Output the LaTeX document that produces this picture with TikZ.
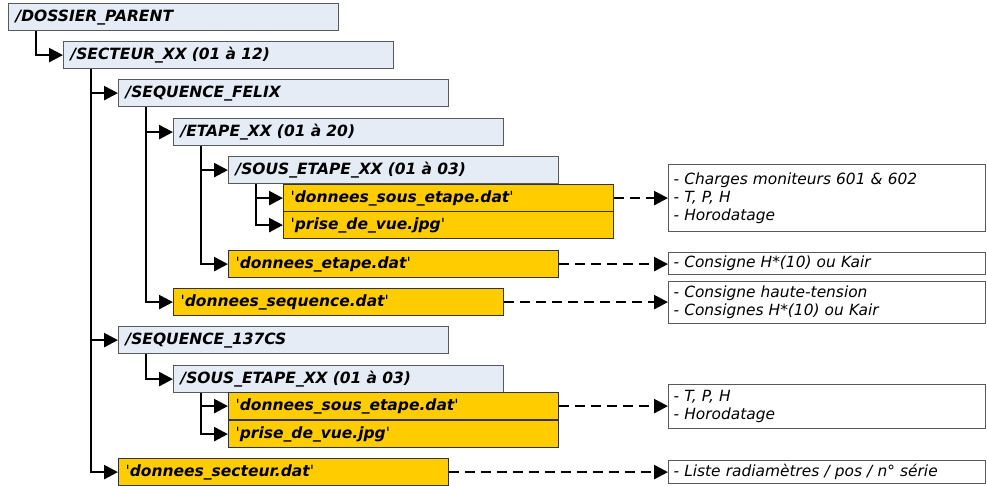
\documentclass[tikz,border=0pt]{standalone}
\usepackage{fontspec}
\setmainfont{DejaVu Sans}
\usepackage{xcolor}
\usetikzlibrary{arrows.meta, positioning}
\definecolor{folderblue}{RGB}{230,236,246}
\definecolor{fileyellow}{RGB}{255,204,0}
\tikzset{
  folder/.style={rectangle, draw=black!65, fill=folderblue, line width=1.2pt,
    anchor=north west, text width=316pt, inner xsep=7pt, inner ysep=0pt, align=left,
    minimum height=27pt, font=\fontsize{15.5}{18}\selectfont\bfseries\itshape},
  datafile/.style={folder, draw=black!80, fill=fileyellow},
  note/.style={rectangle, draw=black!65, fill=white, line width=1.2pt,
    anchor=north west, text width=307pt, inner xsep=5pt, inner ysep=0pt, align=left,
    font=\fontsize{15.4}{18}\selectfont\itshape},
  treearrow/.style={-{Triangle[length=14pt,width=14pt]}, line width=2.5pt},
  linkarrow/.style={-{Triangle[length=14pt,width=14pt]}, line width=2.5pt, dash pattern=on 10pt off 6pt}
}
\newcommand{\fname}[1]{{\normalfont\mdseries\upshape\textquotesingle}#1{\normalfont\mdseries\upshape\textquotesingle}}

\begin{document}
\begin{tikzpicture}[x=1pt, y=-1pt]
  \useasboundingbox (0,0) rectangle (987,486);
  % folders and files
  \node[folder] (parent) at (8,3) {/DOSSIER\_PARENT};
  \node[folder] (secteur) at (63,41) {/SECTEUR\_XX (01 à 12)};
  \node[folder] (seqfelix) at (118,79) {/SEQUENCE\_FELIX};
  \node[folder] (etape) at (173,118) {/ETAPE\_XX (01 à 20)};
  \node[folder] (sousetape) at (228,156) {/SOUS\_ETAPE\_XX (01 à 03)};
  \node[datafile] (setfile) at (283,184) {\fname{donnees\_sous\_etape.dat}};
  \node[datafile] (setjpg) at (283,211) {\fname{prise\_de\_vue.jpg}};
  \node[datafile] (etapefile) at (228,250) {\fname{donnees\_etape.dat}};
  \node[datafile] (seqfile) at (173,288) {\fname{donnees\_sequence.dat}};
  \node[folder] (seqcs) at (118,326) {/SEQUENCE\_137CS};
  \node[folder] (sousetapecs) at (173,365) {/SOUS\_ETAPE\_XX (01 à 03)};
  \node[datafile] (cssetfile) at (228,392) {\fname{donnees\_sous\_etape.dat}};
  \node[datafile] (csjpg) at (228,420) {\fname{prise\_de\_vue.jpg}};
  \node[datafile] (secteurfile) at (118,458) {\fname{donnees\_secteur.dat}};

  % contents of the files
  \node[note, minimum height=67pt] (notesset) at (668,164)
    {- Charges moniteurs 601 \& 602\\- T, P, H\\- Horodatage};
  \node[note, minimum height=22pt] (noteetape) at (668,252) {- Consigne H*(10) ou Kair};
  \node[note, minimum height=42pt] (noteseq) at (668,281)
    {- Consigne haute-tension\\- Consignes H*(10) ou Kair};
  \node[note, minimum height=44pt] (notecsset) at (668,384) {- T, P, H\\- Horodatage};
  \node[note, minimum height=23pt] (notesecteur) at (668,460) {- Liste radiamètres / pos / n° série};

  % tree
  \draw[treearrow] ([xshift=28pt]parent.south west) |- (secteur.west);
  \draw[treearrow] ([xshift=28pt]secteur.south west) |- (seqfelix.west);
  \draw[treearrow] ([xshift=28pt]secteur.south west) |- (seqcs.west);
  \draw[treearrow] ([xshift=28pt]secteur.south west) |- (secteurfile.west);
  \draw[treearrow] ([xshift=28pt]seqfelix.south west) |- (etape.west);
  \draw[treearrow] ([xshift=28pt]seqfelix.south west) |- (seqfile.west);
  \draw[treearrow] ([xshift=28pt]etape.south west) |- (sousetape.west);
  \draw[treearrow] ([xshift=28pt]etape.south west) |- (etapefile.west);
  \draw[treearrow] ([xshift=28pt]sousetape.south west) |- (setfile.west);
  \draw[treearrow] ([xshift=28pt]sousetape.south west) |- (setjpg.west);
  \draw[treearrow] ([xshift=28pt]seqcs.south west) |- (sousetapecs.west);
  \draw[treearrow] ([xshift=28pt]sousetapecs.south west) |- (cssetfile.west);
  \draw[treearrow] ([xshift=28pt]sousetapecs.south west) |- (csjpg.west);

  % links to contents
  \draw[linkarrow] (setfile.east) -- (setfile.east -| notesset.west);
  \draw[linkarrow] (etapefile.east) -- (etapefile.east -| noteetape.west);
  \draw[linkarrow] (seqfile.east) -- (seqfile.east -| noteseq.west);
  \draw[linkarrow] (cssetfile.east) -- (cssetfile.east -| notecsset.west);
  \draw[linkarrow] (secteurfile.east) -- (secteurfile.east -| notesecteur.west);
\end{tikzpicture}
\end{document}
